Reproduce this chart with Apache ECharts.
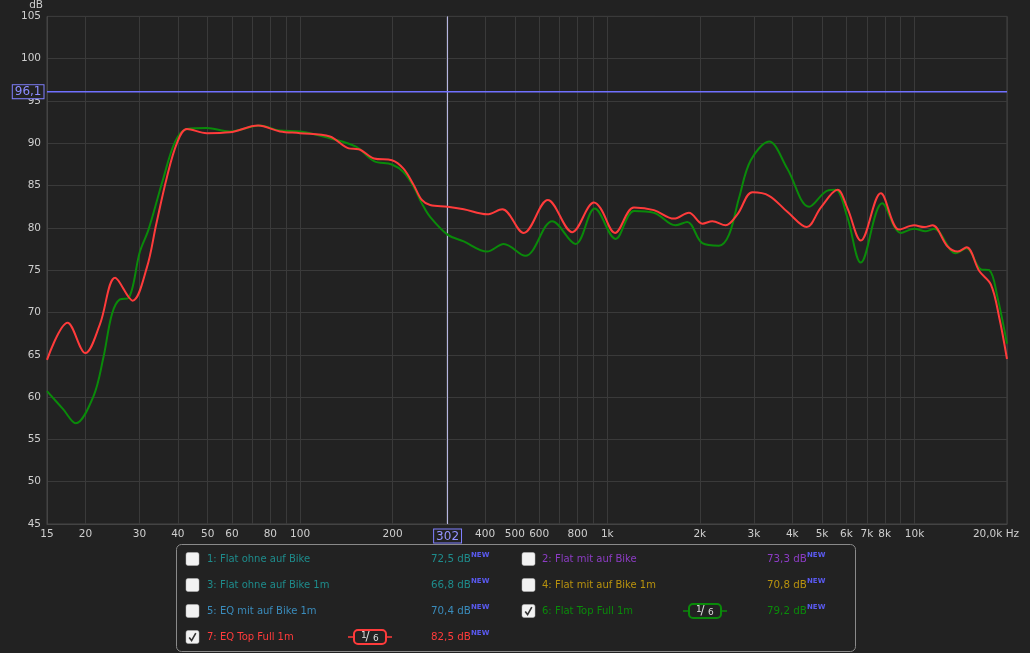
<!DOCTYPE html>
<html><head><meta charset="utf-8">
<script src="https://cdn.jsdelivr.net/npm/echarts@6/dist/echarts.min.js"></script>
<style>html,body{margin:0;padding:0;background:#222;}#c{width:1030px;height:653px;}</style>
</head><body><div id="c"></div>
<script>
// ---- data ----
const redFreq = [15,17.5,20,22.3,25,28.5,31.7,34,36.8,39.7,42.8,49.7,59,73,86,100,125,144,155,174,199,217,234,249,265,302,341,406,455,534,640,769,905,951,1060,1221,1418,1647,1843,2039,2197,2428,2651,2967,3361,3855,4457,4953,5615,6051,6686,7767,8910,9973,10748,11446,12815,13812,14777,16245,17730,18869,20000];
const redDb = [64.4,68.8,65.2,68.6,74.1,71.4,75.3,80.4,85.9,90.0,91.7,91.2,91.3,92.1,91.4,91.2,90.8,89.4,89.3,88.2,88.0,87.0,85.1,83.3,82.7,82.5,82.2,81.6,82.2,79.4,83.3,79.5,83.0,82.3,79.4,82.4,82.1,81.1,81.8,80.5,80.8,80.3,81.6,84.2,83.8,81.9,80.1,82.4,84.5,82.3,78.5,84.1,79.8,80.3,80.1,80.3,77.8,77.2,77.7,74.9,73.3,69.4,64.5];
const greenFreq = [15,16.9,18.6,21.2,22.9,24.4,25.9,27.6,30.1,32.1,35.9,39.2,42.8,49.7,59,74,86,100,125,152,174,199,217,234,249,265,302,341,406,460,541,662,788,910,1064,1221,1418,1665,1821,2039,2309,2490,2682,2930,3361,3855,4536,5208,5540,6051,6686,7850,9030,9973,10880,11583,13620,14777,16450,17520,18650,20000];
const greenDb = [60.7,58.6,56.9,60.0,64.7,69.8,71.55,71.7,77.2,79.8,85.9,90.2,91.7,91.8,91.4,92.1,91.5,91.4,90.6,89.6,87.9,87.5,86.6,84.9,82.9,81.3,79.2,78.4,77.2,78.1,76.7,80.8,78.1,82.3,78.7,82.0,81.8,80.3,80.7,78.2,77.9,79.2,83.5,88.0,90.2,87.0,82.5,84.4,84.5,81.2,75.9,82.9,79.4,79.9,79.6,79.9,77.0,77.6,75.1,75.0,71.7,66.3];

const xGridValues = [20,30,40,50,60,70,80,90,100,200,300,400,500,600,700,800,900,1000,2000,3000,4000,5000,6000,7000,8000,9000,10000,20000];
const xLabelValues = [15,20,30,40,50,60,80,100,200,400,500,600,800,1000,2000,3000,4000,5000,6000,7000,8000,10000,20000];
const xMin = 15, xMax = 20000;
const yMin = 45, yMax = 105, yStep = 5;
const cursorFreq = 302;
const refLevel = 96.1;

const legendNames = ['1: Flat ohne auf Bike','2: Flat mit auf Bike','3: Flat ohne auf Bike 1m','4: Flat mit auf Bike 1m','5: EQ mit auf Bike 1m','6: Flat Top Full 1m','7: EQ Top Full 1m'];
const legendLevels = ['72,5 dB','73,3 dB','66,8 dB','70,8 dB','70,4 dB','79,2 dB','82,5 dB'];
const legendColors = ['#1e8c8c','#8c3cc4','#1e8c8c','#b8920e','#3a8cbc','#0a8a0a','#ff3b3b'];
const legendChecked = [false,false,false,false,false,true,true];

const RED = '#ff3b3b', GREEN = '#0a8a0a';
const FONT = 'DejaVu Sans';

function fmtX(v){
  if (v === 20000) return '{last|20,0k Hz}';
  if (v >= 1000) return (v/1000) + 'k';
  return String(v);
}

// ---- legend graphics ----
const g = [];
g.push({type:'rect', shape:{x:176.5,y:544.5,width:679,height:107,r:5}, style:{fill:'#222',stroke:'#8a8a8a',lineWidth:1}, z:10});
legendNames.forEach((name,i)=>{
  const col = i % 2, row = Math.floor(i/2);
  const cy = 559 + row*26;
  const bx = col ? 522 : 186;
  g.push({type:'rect', shape:{x:bx,y:cy-6.5,width:13,height:13,r:2}, style:{fill:'#f2f2f2',stroke:'#bbb',lineWidth:0.5}, z:11});
  if (legendChecked[i]) {
    g.push({type:'polyline', shape:{points:[[bx+3.2,cy+0.5],[bx+5.6,cy+3.6],[bx+9.8,cy-3.8]]}, style:{stroke:'#333',lineWidth:1.6,fill:null}, z:12});
  }
  const tx = col ? 542 : 207;
  g.push({type:'text', x:tx, y:cy, style:{text:name, fill:legendColors[i], font:'10px "'+FONT+'"', textVerticalAlign:'middle'}, z:11});
  const vx = col ? 767 : 431;
  g.push({type:'text', x:vx, y:cy, style:{text:legendLevels[i], fill:legendColors[i], font:'10.3px "'+FONT+'"', textVerticalAlign:'middle'}, z:11});
  g.push({type:'text', x:vx+40, y:cy-4, style:{text:'NEW', fill:'#5a5af0', font:'bold 7px "'+FONT+'"', textVerticalAlign:'middle'}, z:11});
  if (legendChecked[i]) {
    const x0 = col ? 689 : 354;
    g.push({type:'line', shape:{x1:x0-6,y1:cy,x2:x0+32+6,y2:cy}, style:{stroke:legendColors[i],lineWidth:1.5}, z:11});
    g.push({type:'rect', shape:{x:x0,y:cy-7,width:32,height:14,r:4}, style:{fill:'#222',stroke:legendColors[i],lineWidth:2}, z:12});
    g.push({type:'text', x:x0+7, y:cy-1.5, style:{text:'1', fill:'#ddd', font:'9px "'+FONT+'"', textVerticalAlign:'middle'}, z:13});
    g.push({type:'text', x:x0+11.5, y:cy, style:{text:'/', fill:'#ddd', font:'12px "'+FONT+'"', textVerticalAlign:'middle'}, z:13});
    g.push({type:'text', x:x0+19, y:cy+2, style:{text:'6', fill:'#ddd', font:'9px "'+FONT+'"', textVerticalAlign:'middle'}, z:13});
  }
});

const boxLabel = {show:true, fontFamily:FONT, fontSize:12, borderColor:'#8080ff', borderWidth:1, padding:[1,2,0,2], backgroundColor:'#222', opacity:1};

const chart = echarts.init(document.getElementById('c'), null, {renderer:'canvas'});
chart.setOption({
  backgroundColor:'#222',
  animation:false,
  grid:{left:47, right:23, top:14, bottom:129, show:true, borderColor:'#444', borderWidth:1, containLabel:false},
  xAxis:{
    type:'log', logBase:10, min:xMin, max:xMax,
    axisLine:{show:true, lineStyle:{color:'#444'}},
    axisTick:{show:false, customValues:xGridValues},
    axisLabel:{customValues:xLabelValues, formatter:fmtX, color:'#cfcfcf', fontFamily:FONT, fontSize:10.5, margin:5,
      rich:{last:{color:'#cfcfcf', fontFamily:FONT, fontSize:10.5, padding:[0,22,0,0]}}},
    splitLine:{show:true, lineStyle:{color:'#3a3a3a', width:1}}
  },
  yAxis:{
    type:'value', min:yMin, max:yMax, interval:yStep,
    name:'dB', nameLocation:'end', nameGap:3,
    nameTextStyle:{color:'#cfcfcf', fontFamily:FONT, fontSize:10.5, align:'right', padding:[0,4,0,0]},
    axisLine:{show:true, lineStyle:{color:'#444'}},
    axisTick:{show:false},
    axisLabel:{color:'#cfcfcf', fontFamily:FONT, fontSize:10.5, margin:6},
    splitLine:{show:true, lineStyle:{color:'#3a3a3a', width:1}}
  },
  series:[
    {type:'line', name:'cursor', data:[[cursorFreq,yMin],[cursorFreq,yMax]], showSymbol:false, silent:true, z:2,
     lineStyle:{color:'#c0c0ee', width:1}, itemStyle:{color:'#c0c0ee'},
     markPoint:{silent:true, animation:false, symbol:'circle', symbolSize:1, itemStyle:{color:'rgba(0,0,0,0)'},
       label:Object.assign({}, boxLabel, {position:'bottom', distance:5, color:'#9494ff', formatter:String(cursorFreq)}),
       data:[{coord:[cursorFreq, yMin]}]}},
    {type:'line', name:'6: Flat Top Full 1m', data:greenFreq.map((f,i)=>[f,greenDb[i]]), showSymbol:false, smooth:0.35,
     lineStyle:{color:GREEN, width:2}, itemStyle:{color:GREEN}, z:3, silent:true},
    {type:'line', name:'7: EQ Top Full 1m', data:redFreq.map((f,i)=>[f,redDb[i]]), showSymbol:false, smooth:0.35,
     lineStyle:{color:RED, width:2}, itemStyle:{color:RED}, z:4, silent:true},
    {type:'line', name:'ref', data:[[xMin,refLevel],[xMax,refLevel]], showSymbol:false, silent:true, z:5,
     lineStyle:{color:'#7070ff', width:1.4}, itemStyle:{color:'#7070ff'},
     markPoint:{silent:true, animation:false, symbol:'circle', symbolSize:1, itemStyle:{color:'rgba(0,0,0,0)'},
       label:Object.assign({}, boxLabel, {position:'left', distance:3, color:'#8c8cff', formatter:refLevel.toFixed(1).replace('.',',')}),
       data:[{coord:[xMin, refLevel]}]}}
  ],
  graphic:g
});
</script></body></html>
